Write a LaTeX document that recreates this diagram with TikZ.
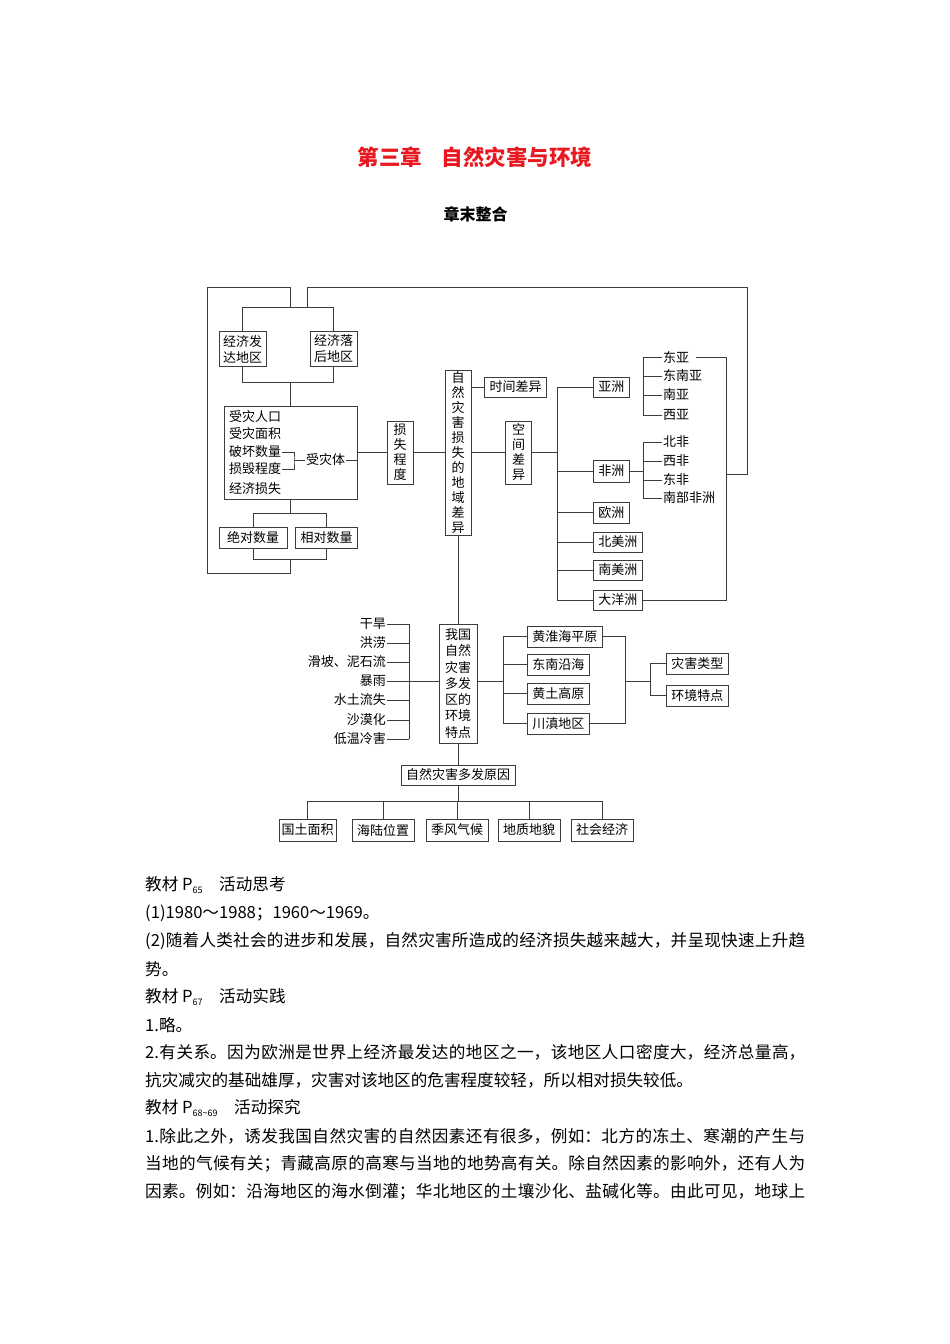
\documentclass[tikz,border=0pt]{standalone}
\usepackage{fontspec}
\setmainfont{Noto Sans CJK SC}
\XeTeXlinebreaklocale "zh"
\XeTeXlinebreakskip=0pt plus 3pt minus 0.3pt
\definecolor{titlered}{RGB}{232,24,32}
\definecolor{linegray}{RGB}{60,60,60}
\newcommand\fullline[1]{{\noindent\parfillskip=0pt #1\par}}
\newcommand\pagesub[1]{\raisebox{-0.25ex}{\fontsize{9}{9}\selectfont #1}}

\tikzset{
  conn/.style={draw=linegray, line width=0.8pt},
  box/.style={draw=linegray, line width=0.8pt, inner xsep=5pt, inner ysep=0pt,
    minimum height=21pt, font=\fontsize{13}{15}\selectfont},
  twoline/.style={box, align=center, inner xsep=4pt, inner ysep=3.5pt,
    font=\fontsize{13}{16}\selectfont},
  vbox/.style={box, align=center, inner xsep=6.5pt},
  tag/.style={inner xsep=1pt, inner ysep=0pt, font=\fontsize{13}{15}\selectfont},
  bodyline/.style={anchor=west, inner sep=0pt, font=\fontsize{16.6}{27.8}\selectfont},
  fullpara/.style={bodyline, text width=660pt, align=justify},
}

\begin{document}
\begin{tikzpicture}[x=1pt, y=-1pt]
  \useasboundingbox (0,0) rectangle (950,1344);

  % heading
  \node[font=\fontsize{21.5}{22}\selectfont\bfseries, text=titlered] (title) at (475,157) {第三章\hspace{0.9em}自然灾害与环境};
  \node[font=\fontsize{16}{16}\selectfont\bfseries] (subtitle) at (475.5,214) {章末整合};

  % loss side
  \node[twoline] (rich) at (242.5,349) {经济发\\达地区};
  \node[twoline] (poor) at (333.5,349) {经济落\\后地区};
  \node[draw=linegray, line width=0.8pt, minimum width=133pt, minimum height=93pt, inner sep=0pt] (victim) at (290.5,452.5) {};
  \node[tag, anchor=west] (pop) at (228,417) {受灾人口};
  \node[tag, anchor=west] (area) at (228,434) {受灾面积};
  \node[tag, anchor=west] (dmg) at (228,452) {破坏数量};
  \node[tag, anchor=west] (ruin) at (228,469) {损毁程度};
  \node[tag, anchor=west] (econ) at (228,489) {经济损失};
  \node[tag, anchor=west] (body) at (305,460) {受灾体};
  \coordinate (bkt) at (294,460);
  \draw[conn] (dmg.east) -| (bkt) |- (ruin.east);
  \draw[conn] (bkt) -- (body.west);
  \draw[conn] (body.east) -- (body.east -| victim.east);

  \coordinate (topbar) at (0,307);
  \coordinate (midbar) at (0,382);
  \draw[conn] (rich.north) -- (rich.north |- topbar) -- (poor.north |- topbar) -- (poor.north);
  \draw[conn] (rich.south) -- (rich.south |- midbar) -- (poor.south |- midbar) -- (poor.south);
  \draw[conn] (victim.north |- midbar) -- (victim.north);

  \node[box, minimum width=68pt] (absnum) at (253,537.5) {绝对数量};
  \node[box, minimum width=61pt] (relnum) at (326.5,537.5) {相对数量};
  \coordinate (upbar) at (0,513);
  \coordinate (lowbar) at (0,559);
  \draw[conn] (victim.south) -- (victim.south |- upbar);
  \draw[conn] (absnum.north) -- (absnum.north |- upbar) -- (relnum.north |- upbar) -- (relnum.north);
  \draw[conn] (absnum.south) -- (absnum.south |- lowbar) -- (relnum.south |- lowbar) -- (relnum.south);

  % outer loops
  \coordinate (loopa) at (290.5,573);
  \coordinate (loopb) at (207,573);
  \coordinate (loopc) at (207,287);
  \coordinate (loopd) at (290,287);
  \draw[conn] (victim.south |- lowbar) -- (loopa) -- (loopb) -- (loopc) -- (loopd) -- (loopd |- topbar);
  \coordinate (loope) at (307,287);
  \coordinate (loopf) at (747,287);
  \coordinate (loopg) at (747,474);
  \coordinate (looph) at (726,474);
  \draw[conn] (loope |- topbar) -- (loope) -- (loopf) -- (loopg) -- (looph);

  % centre
  \node[vbox, minimum height=63pt] (degree) at (400,452.5) {损\\失\\程\\度};
  \node[vbox, minimum height=165pt] (main) at (458,452.5) {自\\然\\灾\\害\\损\\失\\的\\地\\域\\差\\异};
  \draw[conn] (victim.east) -- (degree.west);
  \draw[conn] (degree) -- (main);

  \node[box, minimum height=20pt] (timediff) at (515.5,387) {时间差异};
  \node[vbox, minimum height=63pt] (spacediff) at (518.5,452.5) {空\\间\\差\\异};
  \draw[conn] (main.east |- timediff) -- (timediff.west);
  \draw[conn] (main) -- (spacediff);

  % continents
  \node[box, anchor=west, minimum height=20pt] (asia) at (593,387) {亚洲};
  \node[box, anchor=west, minimum height=22pt] (africa) at (593,471) {非洲};
  \node[box, anchor=west] (europe) at (593,512.5) {欧洲};
  \node[box, anchor=west, minimum height=20pt] (namer) at (593,542) {北美洲};
  \node[box, anchor=west, minimum height=20pt] (samer) at (593,570) {南美洲};
  \node[box, anchor=west, minimum height=20pt] (oceania) at (593,600) {大洋洲};
  \coordinate (cbus) at (557,452.5);
  \draw[conn] (spacediff.east) -- (cbus);
  \draw[conn] (cbus |- asia) -- (cbus |- oceania);
  \foreach \n in {asia,africa,europe,namer,samer,oceania}
    \draw[conn] (cbus |- \n.west) -- (\n.west);

  \coordinate (abus) at (643,0);
  \foreach \name/\txt/\y in {ea/东亚/357, sea/东南亚/376, sa/南亚/395, wa/西亚/415,
      nafr/北非/442, wafr/西非/461, eafr/东非/480, safr/南部非洲/498}{
    \node[tag, anchor=west] (\name) at (662,\y) {\txt};
    \draw[conn] (abus |- \name.west) -- (\name.west);
  }
  \draw[conn] (abus |- ea) -- (abus |- wa);
  \draw[conn] (abus |- nafr) -- (abus |- safr);
  \draw[conn] (africa.east) -- (abus |- africa);

  \coordinate (rbus) at (726,0);
  \draw[conn] ([xshift=6pt]ea.east) -- (rbus |- ea) -- (rbus |- oceania) -- (oceania.east);

  % lower part
  \node[vbox, minimum height=119pt, inner xsep=6pt, font=\fontsize{13}{16.3}\selectfont] (china) at (458,683.5) {我国\\自然\\灾害\\多发\\区的\\环境\\特点};
  \draw[conn] (main) -- (china);

  \coordinate (lbus) at (409,0);
  \foreach \name/\txt/\y in {drought/干旱/624, flood/洪涝/643, slide/滑坡、泥石流/662, storm/暴雨/681,
      erosion/水土流失/700, desert/沙漠化/720, cold/低温冷害/739}{
    \node[tag, anchor=east] (\name) at (387,\y) {\txt};
    \draw[conn] (\name.east) -- (lbus |- \name.east);
  }
  \draw[conn] (lbus |- drought) -- (lbus |- cold);
  \draw[conn] (lbus |- storm) -- (china.west |- storm);

  \node[box, anchor=west] (hhh) at (527,636.5) {黄淮海平原};
  \node[box, anchor=west] (coast) at (527,664.5) {东南沿海};
  \node[box, anchor=west] (loess) at (527,693.5) {黄土高原};
  \node[box, anchor=west] (scy) at (527,723.5) {川滇地区};
  \coordinate (rgbus) at (503,0);
  \draw[conn] (china.east |- storm) -- (rgbus |- storm);
  \draw[conn] (rgbus |- hhh) -- (rgbus |- scy);
  \foreach \n in {hhh,coast,loess,scy}
    \draw[conn] (rgbus |- \n.west) -- (\n.west);
  \coordinate (rgtwo) at (625,0);
  \draw[conn] (hhh.east) -- (rgtwo |- hhh) -- (rgtwo |- scy) -- (scy.east);

  \node[box, anchor=west] (dtype) at (666,663.5) {灾害类型};
  \node[box, anchor=west] (efeat) at (666,695.5) {环境特点};
  \coordinate (fbus) at (650,0);
  \draw[conn] (rgtwo |- storm) -- (fbus |- storm);
  \draw[conn] (fbus |- dtype) -- (fbus |- efeat);
  \draw[conn] (fbus |- dtype) -- (dtype.west);
  \draw[conn] (fbus |- efeat) -- (efeat.west);

  \node[box, minimum height=20pt] (cause) at (458,775) {自然灾害多发原因};
  \draw[conn] (china) -- (cause);
  \node[box, minimum height=22pt, inner xsep=2.5pt] (land) at (307.5,830) {国土面积};
  \node[box, minimum height=22pt] (sealand) at (383,830) {海陆位置};
  \node[box, minimum height=22pt] (monsoon) at (457,830) {季风气候};
  \node[box, minimum height=22pt] (geo) at (529,830) {地质地貌};
  \node[box, minimum height=22pt] (society) at (602,830) {社会经济};
  \coordinate (cbar) at (0,801);
  \draw[conn] (cause.south) -- (cause.south |- cbar);
  \draw[conn] (land.north |- cbar) -- (society.north |- cbar);
  \foreach \n in {land,sealand,monsoon,geo,society}
    \draw[conn] (\n.north |- cbar) -- (\n.north);

  % answers
  \node[bodyline] (pa) at (145,885) {教材 P\pagesub{65}\hspace{1em}活动思考};
  \node[bodyline] (pb) at (145,913) {(1)1980～1988；1960～1969。};
  \node[fullpara] (pc) at (145,941) {\fullline{(2)随着人类社会的进步和发展，自然灾害所造成的经济损失越来越大，并呈现快速上升趋}};
  \node[bodyline] (pd) at (145,969) {势。};
  \node[bodyline] (pe) at (145,997) {教材 P\pagesub{67}\hspace{1em}活动实践};
  \node[bodyline] (pf) at (145,1025) {1.略。};
  \node[fullpara] (pg) at (145,1052) {\fullline{2.有关系。因为欧洲是世界上经济最发达的地区之一，该地区人口密度大，经济总量高，}};
  \node[bodyline] (ph) at (145,1080) {抗灾减灾的基础雄厚，灾害对该地区的危害程度较轻，所以相对损失较低。};
  \node[bodyline] (pi) at (145,1108) {教材 P\pagesub{68\textasciitilde69}\hspace{1em}活动探究};
  \node[fullpara] (pj) at (145,1136) {\fullline{1.除此之外，诱发我国自然灾害的自然因素还有很多，例如：北方的冻土、寒潮的产生与}};
  \node[fullpara] (pk) at (145,1164) {\fullline{当地的气候有关；青藏高原的高寒与当地的地势高有关。除自然因素的影响外，还有人为}};
  \node[fullpara] (pl) at (145,1192) {\fullline{因素。例如：沿海地区的海水倒灌；华北地区的土壤沙化、盐碱化等。由此可见，地球上}};
\end{tikzpicture}
\end{document}
